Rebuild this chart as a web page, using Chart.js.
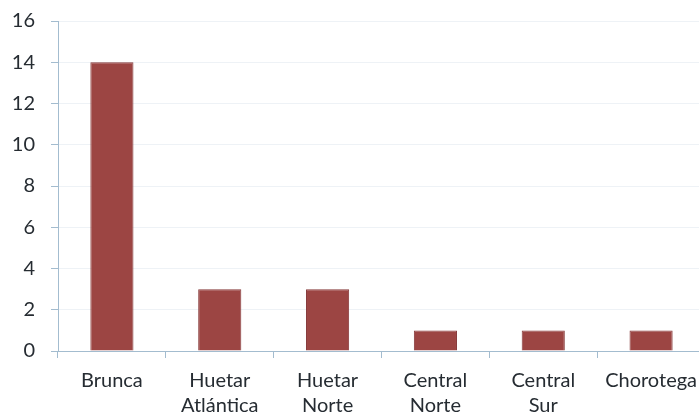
<!DOCTYPE html>
<html>
<head>
<meta charset="utf-8">
<script src="https://cdn.jsdelivr.net/npm/chart.js@4/dist/chart.umd.min.js"></script>
<style>
  html, body { margin: 0; padding: 0; background: #fff; overflow: hidden; }
  #wrap { width: 705px; height: 416px; }
</style>
</head>
<body>
<div id="wrap"><canvas id="c" width="705" height="416"></canvas></div>
<script>
// Regions and counts
const regions = [["Brunca"], ["Huetar", "Atlántica"], ["Huetar", "Norte"], ["Central", "Norte"], ["Central", "Sur"], ["Chorotega"]];
const counts = [14, 3, 3, 1, 1, 1];
const yTicks = [0, 2, 4, 6, 8, 10, 12, 14, 16];

const axisColor = '#a3bccf';
const textColor = '#262c32';

new Chart(document.getElementById('c'), {
  type: 'bar',
  data: {
    labels: regions,
    datasets: [{
      data: counts,
      backgroundColor: '#9c4543',
      borderColor: '#86393a',
      borderWidth: 1,
      barPercentage: 0.4,
      categoryPercentage: 1.0
    }]
  },
  options: {
    responsive: false,
    animation: false,
    layout: { padding: { top: 21, left: 0, right: 0, bottom: 0 } },
    plugins: { legend: { display: false }, tooltip: { enabled: false } },
    scales: {
      x: {
        grid: { offset: true, drawOnChartArea: false, tickColor: axisColor, tickLength: 7 },
        border: { color: axisColor, width: 1 },
        ticks: { color: textColor, font: { family: 'Lato', size: 20, lineHeight: 1.25 }, padding: 10, maxRotation: 0, autoSkip: false },
        afterFit: s => { s.height = 65; s.paddingLeft = 0; s.paddingRight = 0; }
      },
      y: {
        min: 0, max: 16,
        afterBuildTicks: s => { s.ticks = yTicks.map(v => ({ value: v })); },
        grid: { color: '#eef2f6', tickColor: axisColor, tickLength: 7 },
        border: { color: axisColor, width: 1 },
        ticks: { color: textColor, font: { family: 'Lato', size: 20 }, padding: 16 },
        afterFit: s => { s.width = 58; s.paddingTop = 0; s.paddingBottom = 0; }
      }
    }
  }
});
</script>
</body>
</html>
